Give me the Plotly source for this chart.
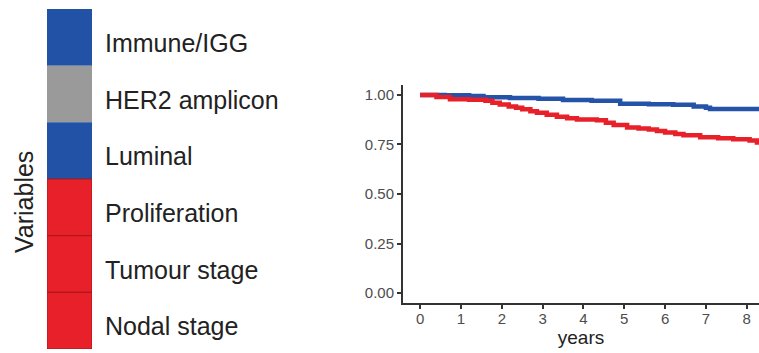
import plotly.graph_objects as go

# Variable groups (top to bottom) and their association colour
variables = ["Immune/IGG", "HER2 amplicon", "Luminal", "Proliferation", "Tumour stage", "Nodal stage"]
var_colors = ["#2152a6", "#9a9a9a", "#2152a6", "#e8202a", "#e8202a", "#e8202a"]

# Kaplan-Meier style survival estimates
blue_years = [0, 0.6, 1.2, 1.55, 2.2, 2.9, 3.5, 4.2, 4.9, 5.6, 6.2, 6.7, 7.0, 7.1, 8.3]
blue_surv = [1.0, 0.998, 0.994, 0.988, 0.984, 0.981, 0.974, 0.970, 0.955, 0.953, 0.950, 0.942, 0.935, 0.929, 0.928]

red_years = [0, 0.4, 0.73, 1.2, 1.6, 1.77, 1.95, 2.17, 2.35, 2.5, 2.7, 2.86, 3.1, 3.35, 3.6, 3.84,
             4.33, 4.55, 4.74, 5.07, 5.35, 5.6, 5.8, 6.0, 6.25, 6.45, 6.86, 7.3, 7.67, 8.07, 8.25, 8.3]
red_surv = [1.0, 0.99, 0.978, 0.975, 0.970, 0.960, 0.952, 0.942, 0.935, 0.928, 0.918, 0.910, 0.900,
            0.890, 0.882, 0.876, 0.872, 0.860, 0.848, 0.836, 0.830, 0.826, 0.818, 0.810, 0.803, 0.796,
            0.786, 0.781, 0.776, 0.770, 0.760, 0.756]

x_ticks = list(range(0, 9))
y_ticks = [0.0, 0.25, 0.5, 0.75, 1.0]
y_ticktext = ["0.00", "0.25", "0.50", "0.75", "1.00"]

W, H = 759, 353
FONT = "Liberation Sans, Arial, sans-serif"

fig = go.Figure()

# Colour strip: one stacked block per variable, top to bottom
n = len(variables)
for i, (name, col) in enumerate(zip(variables, var_colors)):
    is_red = col == "#e8202a"
    fig.add_trace(go.Bar(
        x=[0], y=[1], base=[n - 1 - i], width=1,
        marker=dict(color=col, line=dict(color="#a8161c" if is_red else col, width=1 if is_red else 0)),
        xaxis="x2", yaxis="y2", showlegend=False, hoverinfo="skip", name=name,
    ))

fig.add_trace(go.Scatter(x=blue_years, y=blue_surv, mode="lines", line_shape="hv",
                         line=dict(color="#2453a8", width=4.5), showlegend=False))
fig.add_trace(go.Scatter(x=red_years, y=red_surv, mode="lines", line_shape="hv",
                         line=dict(color="#e8202a", width=4.5), showlegend=False))

axis_col = "#333333"
tick_font = dict(family=FONT, size=15, color="#4d4d4d")

fig.update_layout(
    width=W, height=H,
    margin=dict(l=0, r=0, t=0, b=0),
    paper_bgcolor="white", plot_bgcolor="white",
    barmode="overlay",
    xaxis=dict(domain=[403 / W, 1.0], range=[-0.42, 8.3], tickvals=x_ticks,
               showgrid=False, zeroline=False, showline=True, linecolor=axis_col, linewidth=2,
               ticks="outside", ticklen=4, tickwidth=2, tickcolor=axis_col, tickfont=tick_font,
               ticklabelstandoff=-3,
               title=dict(text="years", font=dict(family=FONT, size=19, color="#222222"), standoff=2),
               anchor="y"),
    yaxis=dict(domain=[(H - 303) / H, (H - 85) / H], range=[-0.05, 1.05],
               tickvals=y_ticks, ticktext=y_ticktext,
               showgrid=False, zeroline=False, showline=True, linecolor=axis_col, linewidth=2,
               ticks="outside", ticklen=4, tickwidth=2, tickcolor=axis_col, tickfont=tick_font,
               anchor="x"),
    xaxis2=dict(domain=[47 / W, 92 / W], range=[-0.5, 0.5], visible=False, anchor="y2"),
    yaxis2=dict(domain=[(H - 349) / H, (H - 9) / H], range=[0, n], anchor="x2", side="right",
                tickvals=[n - 0.5 - i for i in range(n)], ticktext=variables,
                showgrid=False, zeroline=False, showline=False, ticks="",
                ticklabelstandoff=12, ticklabelshift=6,
                tickfont=dict(family=FONT, size=25, color="#222222")),
    annotations=[dict(text="Variables", x=24 / W, y=(H - 202) / H, xref="paper", yref="paper",
                      textangle=-90, showarrow=False, xanchor="center", yanchor="middle",
                      font=dict(family=FONT, size=25, color="#222222"))],
)

fig.write_html("out.html")
